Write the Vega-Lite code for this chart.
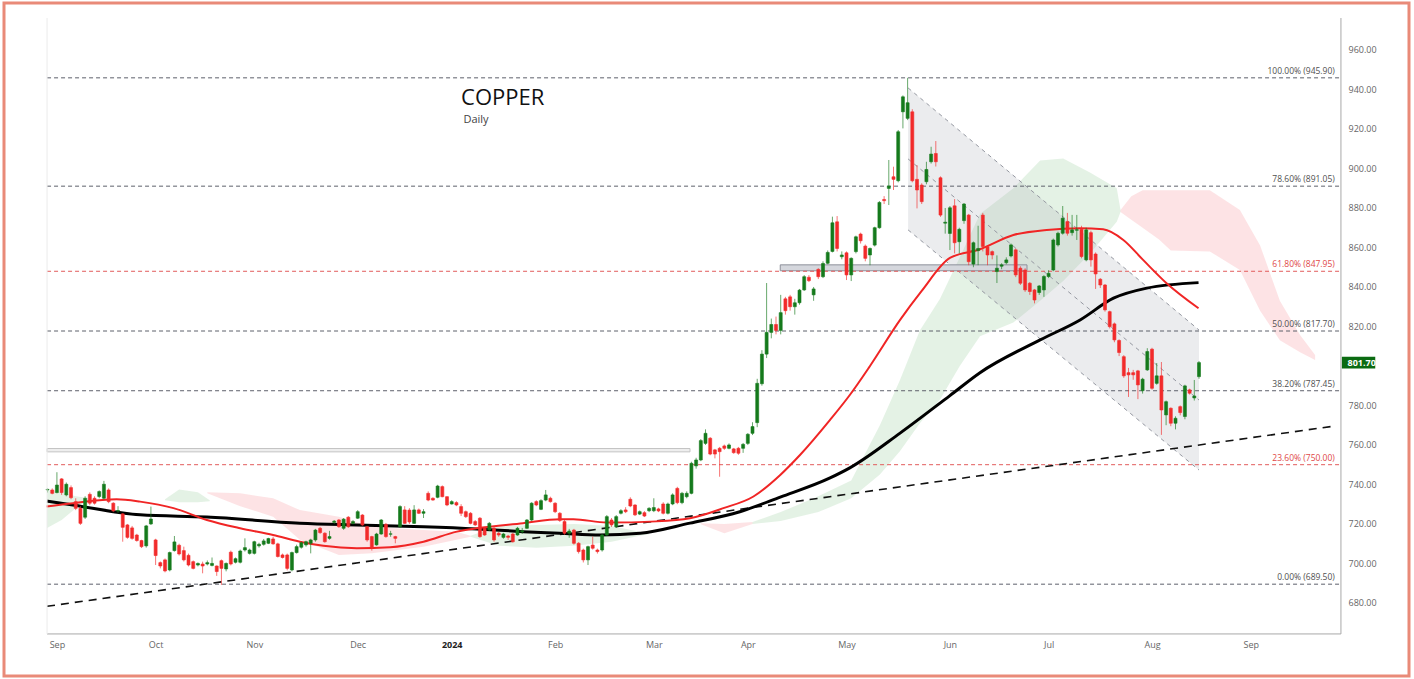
{
"$schema": "https://vega.github.io/schema/vega-lite/v6.json",
"autosize": "none",
"width": 1405,
"height": 673,
"padding": {"left": 4, "top": 3, "right": 5, "bottom": 3},
"background": "white",
"config": {"view": {"stroke": "#e98a78", "strokeWidth": 3}, "axis": {"grid": false, "domain": false, "ticks": false}, "scale": {"continuousPadding": 0}},
"resolve": {"axis": {"x": "independent", "y": "independent"}},
"datasets": {
"candles": [
{"i":0,"o":737.2,"h":738,"l":735.9,"c":737.5},{"i":1,"o":737.2,"h":738,"l":735,"c":735.5},{"i":2,"o":735.9,"h":746.2,"l":735.5,"c":739.7},{"i":3,"o":742.8,"h":743.2,"l":734.7,"c":735.9},{"i":4,"o":734.7,"h":741,"l":734,"c":740.1},{"i":5,"o":738.4,"h":739.5,"l":732.5,"c":733.3},{"i":6,"o":731.3,"h":733,"l":727,"c":727.9},{"i":7,"o":727.9,"h":729,"l":719.5,"c":720.3},{"i":8,"o":723.4,"h":734,"l":722.5,"c":733},{"i":9,"o":735,"h":736,"l":729.5,"c":730.5},
{"i":10,"o":733,"h":734,"l":729.8,"c":730.5},{"i":11,"o":733.9,"h":737,"l":733,"c":736.4},{"i":12,"o":733,"h":741.8,"l":732.5,"c":740.1},{"i":13,"o":737.2,"h":738,"l":730.5,"c":731.3},{"i":14,"o":730.5,"h":731,"l":726,"c":726.6},{"i":15,"o":726.5,"h":729,"l":725.4,"c":726.8},{"i":16,"o":725.1,"h":725.5,"l":711,"c":718.3},{"i":17,"o":719.5,"h":720,"l":712.5,"c":713.2},{"i":18,"o":718,"h":719,"l":712,"c":712.7},{"i":19,"o":714.4,"h":715,"l":711,"c":711.6},
{"i":20,"o":711.6,"h":712,"l":707.8,"c":708.5},{"i":21,"o":708.9,"h":719.5,"l":708,"c":719},{"i":22,"o":720,"h":728.8,"l":719.5,"c":722.5},{"i":23,"o":711.9,"h":712.5,"l":699.2,"c":704},{"i":24,"o":700.4,"h":701,"l":697.5,"c":698.7},{"i":25,"o":701.8,"h":702.5,"l":695.5,"c":696.2},{"i":26,"o":696.7,"h":706,"l":696,"c":705.5},{"i":27,"o":706.5,"h":713.9,"l":706,"c":710.9},{"i":28,"o":709.2,"h":710,"l":704,"c":704.8},{"i":29,"o":706.5,"h":708.5,"l":701,"c":701.8},
{"i":30,"o":704.1,"h":705,"l":698.5,"c":699.2},{"i":31,"o":700.9,"h":701.5,"l":697,"c":697.5},{"i":32,"o":699.2,"h":700.5,"l":698.5,"c":700},{"i":33,"o":699.7,"h":700.9,"l":695,"c":698.7},{"i":34,"o":699.7,"h":701.5,"l":699,"c":700.4},{"i":35,"o":699,"h":703,"l":698.5,"c":700},{"i":36,"o":698.7,"h":699,"l":693.7,"c":695.9},{"i":37,"o":701.4,"h":702,"l":689.1,"c":697.5},{"i":38,"o":697.2,"h":700.5,"l":696,"c":700},{"i":39,"o":705.7,"h":706.5,"l":699,"c":699.7},
{"i":40,"o":700.6,"h":703,"l":700,"c":702.4},{"i":41,"o":700.6,"h":707,"l":700,"c":706.3},{"i":42,"o":706.8,"h":712.7,"l":706,"c":708},{"i":43,"o":705.1,"h":707.5,"l":704.5,"c":706.8},{"i":44,"o":705.1,"h":711.5,"l":704.5,"c":711},{"i":45,"o":708.9,"h":710.5,"l":708,"c":709.7},{"i":46,"o":709.7,"h":712.4,"l":709,"c":711.4},{"i":47,"o":710.2,"h":713,"l":709.8,"c":712.6},{"i":48,"o":712.4,"h":713.5,"l":709.5,"c":709.9},{"i":49,"o":709.9,"h":710.5,"l":703,"c":703.5},
{"i":50,"o":704.3,"h":705,"l":702.5,"c":703},{"i":51,"o":704.3,"h":705,"l":696.5,"c":697.5},{"i":52,"o":696.7,"h":706,"l":696,"c":705.5},{"i":53,"o":705.5,"h":709.5,"l":705,"c":708.5},{"i":54,"o":708.2,"h":711,"l":707.5,"c":710.5},{"i":55,"o":709.4,"h":711.5,"l":708.5,"c":711},{"i":56,"o":710.2,"h":712.5,"l":705.1,"c":711.9},{"i":57,"o":711.9,"h":717.5,"l":711,"c":716.9},{"i":58,"o":717.8,"h":718.5,"l":715,"c":715.6},{"i":59,"o":715.3,"h":715.8,"l":710.5,"c":711},
{"i":60,"o":712.7,"h":716.5,"l":712,"c":713.6},{"i":61,"o":720.8,"h":722,"l":720,"c":721.4},{"i":62,"o":722,"h":722.5,"l":718,"c":718.6},{"i":63,"o":717.8,"h":723,"l":717,"c":722.4},{"i":64,"o":723.4,"h":724,"l":718,"c":718.6},{"i":65,"o":720.3,"h":722,"l":719.8,"c":721.2},{"i":66,"o":722.9,"h":727,"l":722.5,"c":726.2},{"i":67,"o":724.5,"h":725,"l":719,"c":719.5},{"i":68,"o":718.6,"h":719,"l":711,"c":711.9},{"i":69,"o":713.6,"h":714,"l":706.5,"c":707.7},
{"i":70,"o":709.4,"h":715.5,"l":709,"c":714.9},{"i":71,"o":714.9,"h":722.5,"l":714.5,"c":722},{"i":72,"o":719.8,"h":720.5,"l":713,"c":713.6},{"i":73,"o":714.8,"h":716.5,"l":713.5,"c":715},{"i":74,"o":713.6,"h":714,"l":710.2,"c":712.7},{"i":75,"o":718.6,"h":729.5,"l":718,"c":728.8},{"i":76,"o":727.1,"h":729,"l":720,"c":720.3},{"i":77,"o":727,"h":728,"l":720,"c":721},{"i":78,"o":720.3,"h":729.5,"l":720,"c":727.1},{"i":79,"o":727.1,"h":727.8,"l":725,"c":725.4},
{"i":80,"o":725.4,"h":727.5,"l":723,"c":726.2},{"i":81,"o":735.5,"h":736.5,"l":731.5,"c":732.1},{"i":82,"o":733,"h":733.5,"l":731.8,"c":732.1},{"i":83,"o":733.5,"h":739.8,"l":733,"c":739.2},{"i":84,"o":738.9,"h":739.5,"l":733.5,"c":733.8},{"i":85,"o":733.8,"h":734,"l":729,"c":729.6},{"i":86,"o":730.1,"h":732,"l":729.8,"c":731.3},{"i":87,"o":730.8,"h":731.5,"l":729,"c":729.6},{"i":88,"o":728.8,"h":730,"l":724,"c":725.4},{"i":89,"o":726.2,"h":726.8,"l":723,"c":723.7},
{"i":90,"o":725.4,"h":726,"l":719.8,"c":720.3},{"i":91,"o":721.2,"h":722,"l":719,"c":719.5},{"i":92,"o":722.9,"h":723.5,"l":713,"c":713.6},{"i":93,"o":717.8,"h":718.5,"l":714,"c":714.4},{"i":94,"o":717,"h":721,"l":716.5,"c":720.3},{"i":95,"o":717.8,"h":718.5,"l":711,"c":711.9},{"i":96,"o":715.3,"h":716,"l":713.5,"c":714.4},{"i":97,"o":713.2,"h":715.5,"l":712.5,"c":714.9},{"i":98,"o":713.9,"h":714.5,"l":711.9,"c":713.2},{"i":99,"o":714.9,"h":715.5,"l":710.5,"c":711},
{"i":100,"o":714.4,"h":718.5,"l":714,"c":717.8},{"i":101,"o":716,"h":718,"l":715,"c":716.5},{"i":102,"o":717.8,"h":722.5,"l":717.5,"c":722},{"i":103,"o":722,"h":731,"l":721.5,"c":730.5},{"i":104,"o":731.3,"h":732,"l":729,"c":729.6},{"i":105,"o":727.4,"h":732.5,"l":727,"c":731.8},{"i":106,"o":732.1,"h":737.2,"l":731.5,"c":734.7},{"i":107,"o":733,"h":733.8,"l":730.8,"c":731.3},{"i":108,"o":730.5,"h":731,"l":725.5,"c":726.2},{"i":109,"o":725.4,"h":726,"l":721,"c":721.8},
{"i":110,"o":721.2,"h":722,"l":714.5,"c":715.3},{"i":111,"o":715.3,"h":717.5,"l":713,"c":716.4},{"i":112,"o":716.9,"h":717.5,"l":709.5,"c":710.2},{"i":113,"o":710.2,"h":710.8,"l":705,"c":706},{"i":114,"o":706.8,"h":707.5,"l":700.5,"c":701.8},{"i":115,"o":701.8,"h":709,"l":699.2,"c":708.5},{"i":116,"o":709.3,"h":713.6,"l":707,"c":707.7},{"i":117,"o":706.8,"h":707.5,"l":705,"c":706},{"i":118,"o":706.8,"h":715,"l":706,"c":714.4},{"i":119,"o":714.4,"h":724.5,"l":714,"c":723.7},
{"i":120,"o":722,"h":723,"l":718.5,"c":719.5},{"i":121,"o":718.6,"h":724.5,"l":718,"c":723.7},{"i":122,"o":725.4,"h":727.5,"l":724.8,"c":726.7},{"i":123,"o":727.1,"h":728.5,"l":725.5,"c":726.2},{"i":124,"o":732.5,"h":733.5,"l":728.5,"c":729.1},{"i":125,"o":729.6,"h":730,"l":724,"c":724.6},{"i":126,"o":725,"h":726.8,"l":724.5,"c":726.2},{"i":127,"o":725.7,"h":726.5,"l":723.5,"c":724},{"i":128,"o":726.7,"h":728.5,"l":726,"c":727.9},{"i":129,"o":726.7,"h":733,"l":726,"c":728.3},
{"i":130,"o":727.6,"h":728.2,"l":726,"c":726.6},{"i":131,"o":730.1,"h":731,"l":724.8,"c":725.4},{"i":132,"o":725.4,"h":730.8,"l":724.8,"c":730.1},{"i":133,"o":730.1,"h":735.5,"l":729.5,"c":734.7},{"i":134,"o":738,"h":738.8,"l":730,"c":730.8},{"i":135,"o":730.8,"h":736.2,"l":730,"c":735.5},{"i":136,"o":733.8,"h":736.5,"l":733,"c":735.5},{"i":137,"o":735.5,"h":751.5,"l":735,"c":750.7},{"i":138,"o":749.4,"h":753.5,"l":748,"c":752.4},{"i":139,"o":752.4,"h":763,"l":751.8,"c":762.2},
{"i":140,"o":760.8,"h":767.9,"l":760,"c":765.9},{"i":141,"o":763.4,"h":764,"l":754.8,"c":755.4},{"i":142,"o":757.5,"h":758,"l":753.2,"c":755.4},{"i":143,"o":758.3,"h":759,"l":743.9,"c":756.6},{"i":144,"o":759.5,"h":760.2,"l":757.5,"c":758.3},{"i":145,"o":758.3,"h":760.8,"l":757.8,"c":760},{"i":146,"o":758,"h":758.5,"l":755.5,"c":756.1},{"i":147,"o":758.3,"h":759,"l":755,"c":755.8},{"i":148,"o":758.3,"h":761,"l":756,"c":760.3},{"i":149,"o":760.8,"h":766,"l":760,"c":765.4},
{"i":150,"o":765.9,"h":771.5,"l":765,"c":769.3},{"i":151,"o":771.3,"h":793.5,"l":769,"c":791.2},{"i":152,"o":791,"h":808,"l":790,"c":806},{"i":153,"o":806,"h":842,"l":804,"c":817},{"i":154,"o":817,"h":824,"l":814,"c":821},{"i":155,"o":821,"h":825,"l":816,"c":818},{"i":156,"o":818,"h":836,"l":816,"c":827},{"i":157,"o":834,"h":835,"l":826,"c":828},{"i":158,"o":835,"h":836,"l":828,"c":830},{"i":159,"o":830,"h":834,"l":826,"c":832},
{"i":160,"o":832,"h":839,"l":831,"c":838.4},{"i":161,"o":838.5,"h":846,"l":838,"c":845.2},{"i":162,"o":844.9,"h":846,"l":842.5,"c":843.2},{"i":163,"o":836,"h":840,"l":833,"c":839},{"i":164,"o":848.9,"h":849.5,"l":844,"c":845.2},{"i":165,"o":845.2,"h":853,"l":844.5,"c":851.9},{"i":166,"o":852,"h":858.5,"l":851.5,"c":857.5},{"i":167,"o":858,"h":875.6,"l":857.5,"c":872.5},{"i":168,"o":873,"h":875.9,"l":858,"c":859.5},{"i":169,"o":855.3,"h":858,"l":854,"c":856.2},
{"i":170,"o":857.3,"h":858,"l":843.5,"c":846.1},{"i":171,"o":846.1,"h":855,"l":843,"c":854.5},{"i":172,"o":857.9,"h":866,"l":857,"c":865.4},{"i":173,"o":866.8,"h":867.5,"l":862,"c":863.4},{"i":174,"o":860.7,"h":861.5,"l":853,"c":854.5},{"i":175,"o":856.2,"h":860,"l":851,"c":859.5},{"i":176,"o":861.2,"h":870.5,"l":860.5,"c":870},{"i":177,"o":870,"h":883.5,"l":869.5,"c":882.8},{"i":178,"o":884.3,"h":886,"l":882,"c":883.7},{"i":179,"o":889.9,"h":904.3,"l":881.5,"c":891.1},
{"i":180,"o":895.8,"h":900.9,"l":889.1,"c":894.5},{"i":181,"o":893.8,"h":919.5,"l":893,"c":918.6},{"i":182,"o":928.7,"h":937,"l":920.3,"c":936.3},{"i":183,"o":925.4,"h":945.9,"l":924.5,"c":933.3},{"i":184,"o":928.7,"h":930,"l":893,"c":893.8},{"i":185,"o":894.5,"h":901.7,"l":879.8,"c":889.1},{"i":186,"o":891.6,"h":892.5,"l":882,"c":883.2},{"i":187,"o":893.3,"h":903.4,"l":892,"c":899.5},{"i":188,"o":903.4,"h":911,"l":902.5,"c":907.3},{"i":189,"o":907.6,"h":913.9,"l":901,"c":903.4},
{"i":190,"o":895.3,"h":896,"l":875.5,"c":876.4},{"i":191,"o":872.3,"h":880,"l":867,"c":872.8},{"i":192,"o":867.1,"h":881,"l":858.7,"c":880.1},{"i":193,"o":881.1,"h":884.5,"l":857,"c":862.4},{"i":194,"o":862.9,"h":870,"l":857,"c":869.2},{"i":195,"o":873.6,"h":882.5,"l":872,"c":882},{"i":196,"o":876.4,"h":877,"l":851,"c":852.8},{"i":197,"o":851.6,"h":863,"l":850,"c":862.4},{"i":198,"o":858.4,"h":871,"l":851,"c":859.5},{"i":199,"o":876.4,"h":877.5,"l":858,"c":860.5},
{"i":200,"o":860.4,"h":861,"l":851,"c":856.2},{"i":201,"o":857.9,"h":858.5,"l":854,"c":856.2},{"i":202,"o":847.8,"h":856,"l":842,"c":849.5},{"i":203,"o":850.5,"h":852,"l":849,"c":851.2},{"i":204,"o":852.3,"h":855,"l":851.5,"c":853.7},{"i":205,"o":855.7,"h":862,"l":855,"c":861.3},{"i":206,"o":858.8,"h":859.5,"l":845,"c":846.1},{"i":207,"o":849.5,"h":850.5,"l":841,"c":841.9},{"i":208,"o":848.6,"h":849.5,"l":837.5,"c":838.5},{"i":209,"o":841.9,"h":842.5,"l":836,"c":837.7},
{"i":210,"o":838.5,"h":839,"l":831.7,"c":833.4},{"i":211,"o":837.2,"h":841,"l":836,"c":840.5},{"i":212,"o":838.5,"h":846,"l":835,"c":845.3},{"i":213,"o":845.3,"h":848.5,"l":844.5,"c":846.9},{"i":214,"o":848.6,"h":864.5,"l":848,"c":863.8},{"i":215,"o":861.3,"h":868,"l":860.5,"c":867.2},{"i":216,"o":867.2,"h":881,"l":866.5,"c":874.8},{"i":217,"o":873.1,"h":877.5,"l":866,"c":867.2},{"i":218,"o":867.5,"h":876.5,"l":866,"c":868.9},{"i":219,"o":868.7,"h":876.5,"l":863.8,"c":869},
{"i":220,"o":869.2,"h":871,"l":854.5,"c":855.4},{"i":221,"o":853.7,"h":870,"l":853,"c":868.9},{"i":222,"o":867.5,"h":868.5,"l":850.3,"c":853.7},{"i":223,"o":856.7,"h":857.5,"l":839,"c":846.6},{"i":224,"o":843.9,"h":844.5,"l":839.5,"c":841},{"i":225,"o":841,"h":841.5,"l":827.5,"c":828.4},{"i":226,"o":827.5,"h":828,"l":819,"c":819.9},{"i":227,"o":821.3,"h":822,"l":812,"c":813.2},{"i":228,"o":812.9,"h":813.5,"l":805,"c":806.8},{"i":229,"o":804.7,"h":805.5,"l":794,"c":795},
{"i":230,"o":796.6,"h":799,"l":784.3,"c":795.5},{"i":231,"o":796.6,"h":798,"l":793,"c":795.5},{"i":232,"o":797.5,"h":798,"l":783.2,"c":790.4},{"i":233,"o":787.5,"h":794,"l":786,"c":793.3},{"i":234,"o":798,"h":809,"l":797.5,"c":807.3},{"i":235,"o":808.5,"h":809.2,"l":788,"c":788.7},{"i":236,"o":791.2,"h":801.5,"l":790.5,"c":795},{"i":237,"o":795,"h":802,"l":765.1,"c":777.7},{"i":238,"o":775.2,"h":782.5,"l":770,"c":781.9},{"i":239,"o":778.6,"h":779,"l":769.5,"c":771},
{"i":240,"o":771,"h":774.5,"l":767.9,"c":773.5},{"i":241,"o":779.4,"h":780,"l":775,"c":776.4},{"i":242,"o":774.4,"h":790.5,"l":773,"c":789.9},{"i":243,"o":787.9,"h":788.5,"l":785.5,"c":786.2},{"i":244,"o":783.8,"h":792.9,"l":782.5,"c":784.8},{"i":245,"o":794.6,"h":802.5,"l":793.5,"c":801.7}
],
"maRed": [
{"i":-0.2,"v":728.8},{"i":5.4,"v":730.5},{"i":14.7,"v":732.5},{"i":19.7,"v":731.3},{"i":26.8,"v":728},{"i":33.9,"v":722},{"i":41,"v":717.8},{"i":48,"v":714.4},{"i":53.7,"v":711},{"i":58.7,"v":708.9},{"i":65.8,"v":707.7},{"i":72.9,"v":708.2},{"i":80,"v":711},{"i":87.1,"v":716.1},{"i":91.3,"v":717.8},{"i":101.2,"v":720.4},{"i":109,"v":722.4},{"i":111.9,"v":722.4},{"i":119,"v":720.7},{"i":129.6,"v":721.3},{"i":136.7,"v":722.9},{"i":143.8,"v":728},{"i":150.2,"v":733.9},{"i":155.9,"v":744.8},{"i":160.1,"v":754.9},{"i":166.5,"v":772.7},{"i":170.7,"v":785.3},{"i":175,"v":800},{"i":181.4,"v":823.3},{"i":186,"v":838},{"i":192,"v":854.7},{"i":198.4,"v":859.1},{"i":205.5,"v":866.3},{"i":212.6,"v":868.9},{"i":219.7,"v":869.7},{"i":224.6,"v":869.2},{"i":228.9,"v":863.8},{"i":233.1,"v":853.7},{"i":238.1,"v":841.9},{"i":244.9,"v":829.2}
],
"maBlack": [
{"i":-0.1,"v":731.6},{"i":5.4,"v":729.6},{"i":19.7,"v":724.6},{"i":33.9,"v":723.5},{"i":53.7,"v":720.4},{"i":65.8,"v":719.5},{"i":80,"v":718.6},{"i":91.3,"v":717.5},{"i":101.2,"v":716.1},{"i":109,"v":715.3},{"i":117.6,"v":714.4},{"i":126.1,"v":715.3},{"i":136.7,"v":720.4},{"i":147.3,"v":726.2},{"i":155.9,"v":733.6},{"i":166.5,"v":743.3},{"i":170.7,"v":748.4},{"i":181.4,"v":766},{"i":192,"v":785},{"i":198.4,"v":796.6},{"i":211.2,"v":813.2},{"i":219.7,"v":823.3},{"i":226.8,"v":834.3},{"i":233.9,"v":839.4},{"i":244.9,"v":842.2}
],
"cloud": [
{"seg":1,"k":"g","i":-0.1,"top":737,"bot":718},{"seg":1,"k":"g","i":3,"top":736,"bot":722},{"seg":1,"k":"g","i":6,"top":734,"bot":728},{"seg":1,"k":"g","i":9,"top":733,"bot":732.5},
{"seg":2,"k":"g","i":25,"top":732.5,"bot":732},{"seg":2,"k":"g","i":28,"top":737.5,"bot":731},{"seg":2,"k":"g","i":32,"top":736,"bot":731},{"seg":2,"k":"g","i":34.5,"top":732,"bot":731.5},
{"seg":3,"k":"r","i":34,"top":736,"bot":735.5},{"seg":3,"k":"r","i":41,"top":735.5,"bot":729},{"seg":3,"k":"r","i":48,"top":733,"bot":723.7},{"seg":3,"k":"r","i":53.7,"top":727,"bot":712},{"seg":3,"k":"r","i":62,"top":723.7,"bot":704.3},{"seg":3,"k":"r","i":69,"top":718.6,"bot":705.1},{"seg":3,"k":"r","i":80,"top":716.9,"bot":708.5},{"seg":3,"k":"r","i":87,"top":716,"bot":712},{"seg":3,"k":"r","i":90,"top":714,"bot":713.5},
{"seg":4,"k":"g","i":90,"top":714,"bot":713.5},{"seg":4,"k":"g","i":96,"top":719,"bot":709},{"seg":4,"k":"g","i":104,"top":719.5,"bot":708},{"seg":4,"k":"g","i":112,"top":720,"bot":709},{"seg":4,"k":"g","i":120,"top":719,"bot":711},{"seg":4,"k":"g","i":126,"top":716,"bot":714},{"seg":4,"k":"g","i":128,"top":715,"bot":714.8},
{"seg":5,"k":"r","i":139,"top":720.3,"bot":719.8},{"seg":5,"k":"r","i":144,"top":720,"bot":715.3},{"seg":5,"k":"r","i":150,"top":721,"bot":720},
{"seg":6,"k":"g","i":150,"top":721,"bot":720},{"seg":6,"k":"g","i":156,"top":726,"bot":721.5},{"seg":6,"k":"g","i":164,"top":734,"bot":726},{"seg":6,"k":"g","i":171,"top":742,"bot":733},{"seg":6,"k":"g","i":177.1,"top":770,"bot":745},{"seg":6,"k":"g","i":181.4,"top":793,"bot":757},{"seg":6,"k":"g","i":185.6,"top":818,"bot":771},{"seg":6,"k":"g","i":189.9,"top":834,"bot":783},{"seg":6,"k":"g","i":194.1,"top":855,"bot":800},{"seg":6,"k":"g","i":198.4,"top":877,"bot":815},{"seg":6,"k":"g","i":205.5,"top":890,"bot":822},{"seg":6,"k":"g","i":211.2,"top":904,"bot":833},{"seg":6,"k":"g","i":216.1,"top":905,"bot":843},{"seg":6,"k":"g","i":221.8,"top":898,"bot":857},{"seg":6,"k":"g","i":227.5,"top":890,"bot":873},{"seg":6,"k":"g","i":228.3,"top":879,"bot":878},
{"seg":7,"k":"r","i":228.3,"top":879,"bot":878},{"seg":7,"k":"r","i":230.6,"top":886,"bot":874},{"seg":7,"k":"r","i":233,"top":889,"bot":870},{"seg":7,"k":"r","i":236.5,"top":889,"bot":864},{"seg":7,"k":"r","i":239,"top":889,"bot":858.5},{"seg":7,"k":"r","i":247.3,"top":889,"bot":858},{"seg":7,"k":"r","i":253.7,"top":879,"bot":848.6},{"seg":7,"k":"r","i":258,"top":861,"bot":828},{"seg":7,"k":"r","i":262.2,"top":833,"bot":813},{"seg":7,"k":"r","i":266.5,"top":815.7,"bot":807},{"seg":7,"k":"r","i":269.7,"top":805.6,"bot":803}
],
"fib": [
{"p":945.9,"t":"100.00% (945.90)","r":0},{"p":891.05,"t":"78.60% (891.05)","r":0},{"p":847.95,"t":"61.80% (847.95)","r":1},{"p":817.7,"t":"50.00% (817.70)","r":0},{"p":787.45,"t":"38.20% (787.45)","r":0},{"p":750,"t":"23.60% (750.00)","r":1},{"p":689.5,"t":"0.00% (689.50)","r":0}
],
"trend": [{"i":-0.1,"v":678.3},{"i":273.9,"v":769.6}],
"channel": [{"i":183.1,"top":940.8,"mid":904.85,"bot":868.9},{"i":245,"top":818.2,"mid":782.75,"bot":747.3}],
"zones": [{"i1":155.9,"i2":208.4,"p1":848.2,"p2":851.2,"z":"a"},{"i1":-0.1,"i2":136.7,"p1":756.5,"p2":758.2,"z":"b"}]
},
"layer": [
{"data": {"name": "cloud"}, "mark": {"type": "area", "opacity": 0.14},
 "encoding": {"x": {"field": "i", "type": "quantitative", "scale": {"domain": [-9.26, 289.68], "nice": false, "zero": false}, "axis": null},
  "y": {"field": "top", "type": "quantitative", "scale": {"domain": [643.0, 983.8], "nice": false, "zero": false}, "axis": null},
  "y2": {"field": "bot"},
  "color": {"field": "k", "type": "nominal", "scale": {"domain": ["g", "r"], "range": ["#43a047", "#f23645"]}, "legend": null},
  "detail": {"field": "seg"}}},
{"data": {"name": "channel"}, "mark": {"type": "area", "color": "#b2b5be", "opacity": 0.26},
 "encoding": {"x": {"field": "i", "type": "quantitative", "scale": {"domain": [-9.26, 289.68], "nice": false, "zero": false}, "axis": null},
  "y": {"field": "top", "type": "quantitative", "scale": {"domain": [643.0, 983.8], "nice": false, "zero": false}, "axis": null},
  "y2": {"field": "bot"}}},
{"data": {"name": "channel"}, "mark": {"type": "line", "color": "#9598a1", "strokeWidth": 1, "strokeDash": [4, 4]},
 "encoding": {"x": {"field": "i", "type": "quantitative", "scale": {"domain": [-9.26, 289.68], "nice": false, "zero": false}, "axis": null},
  "y": {"field": "top", "type": "quantitative", "scale": {"domain": [643.0, 983.8], "nice": false, "zero": false}, "axis": null}}},
{"data": {"name": "channel"}, "mark": {"type": "line", "color": "#9598a1", "strokeWidth": 1, "strokeDash": [4, 4]},
 "encoding": {"x": {"field": "i", "type": "quantitative", "scale": {"domain": [-9.26, 289.68], "nice": false, "zero": false}, "axis": null},
  "y": {"field": "mid", "type": "quantitative", "scale": {"domain": [643.0, 983.8], "nice": false, "zero": false}, "axis": null}}},
{"data": {"name": "channel"}, "mark": {"type": "line", "color": "#9598a1", "strokeWidth": 1, "strokeDash": [4, 4]},
 "encoding": {"x": {"field": "i", "type": "quantitative", "scale": {"domain": [-9.26, 289.68], "nice": false, "zero": false}, "axis": null},
  "y": {"field": "bot", "type": "quantitative", "scale": {"domain": [643.0, 983.8], "nice": false, "zero": false}, "axis": null}}},
{"data": {"name": "zones"}, "mark": {"type": "rect", "strokeWidth": 1},
 "encoding": {"x": {"field": "i1", "type": "quantitative", "scale": {"domain": [-9.26, 289.68], "nice": false, "zero": false}, "axis": null},
  "x2": {"field": "i2"},
  "y": {"field": "p1", "type": "quantitative", "scale": {"domain": [643.0, 983.8], "nice": false, "zero": false}, "axis": null},
  "y2": {"field": "p2"},
  "fill": {"condition": {"test": "datum.z === 'a'", "value": "#d5d7dd"}, "value": "#eeeeee"},
  "stroke": {"condition": {"test": "datum.z === 'a'", "value": "#8d909a"}, "value": "#c4c4c4"}}},
{"data": {"name": "fib"}, "mark": {"type": "rule", "strokeWidth": 1, "strokeDash": [4, 3]},
 "encoding": {"x": {"datum": -0.1, "type": "quantitative", "scale": {"domain": [-9.26, 289.68], "nice": false, "zero": false}, "axis": null},
  "x2": {"datum": 275.2},
  "y": {"field": "p", "type": "quantitative", "scale": {"domain": [643.0, 983.8], "nice": false, "zero": false}, "axis": null},
  "color": {"condition": {"test": "datum.r === 1", "value": "#e25c5c"}, "value": "#5d606b"}}},
{"data": {"name": "fib"}, "mark": {"type": "text", "align": "right", "baseline": "alphabetic", "dy": -4, "font": "Open Sans", "fontSize": 8.5},
 "encoding": {"x": {"datum": 273.9, "type": "quantitative", "scale": {"domain": [-9.26, 289.68], "nice": false, "zero": false}, "axis": null},
  "y": {"field": "p", "type": "quantitative", "scale": {"domain": [643.0, 983.8], "nice": false, "zero": false}, "axis": null},
  "text": {"field": "t"},
  "color": {"condition": {"test": "datum.r === 1", "value": "#e04848"}, "value": "#505050"}}},
{"data": {"name": "trend"}, "mark": {"type": "line", "color": "#111111", "strokeWidth": 1.6, "strokeDash": [8, 6]},
 "encoding": {"x": {"field": "i", "type": "quantitative", "scale": {"domain": [-9.26, 289.68], "nice": false, "zero": false}, "axis": null},
  "y": {"field": "v", "type": "quantitative", "scale": {"domain": [643.0, 983.8], "nice": false, "zero": false}, "axis": null}}},
{"data": {"name": "maBlack"}, "mark": {"type": "line", "color": "#000000", "strokeWidth": 3, "interpolate": "monotone"},
 "encoding": {"x": {"field": "i", "type": "quantitative", "scale": {"domain": [-9.26, 289.68], "nice": false, "zero": false}, "axis": null},
  "y": {"field": "v", "type": "quantitative", "scale": {"domain": [643.0, 983.8], "nice": false, "zero": false}, "axis": null}}},
{"data": {"name": "maRed"}, "mark": {"type": "line", "color": "#f02525", "strokeWidth": 2, "interpolate": "monotone"},
 "encoding": {"x": {"field": "i", "type": "quantitative", "scale": {"domain": [-9.26, 289.68], "nice": false, "zero": false}, "axis": null},
  "y": {"field": "v", "type": "quantitative", "scale": {"domain": [643.0, 983.8], "nice": false, "zero": false}, "axis": null}}},
{"data": {"name": "candles"}, "mark": {"type": "rule", "strokeWidth": 1, "opacity": 0.65},
 "encoding": {"x": {"field": "i", "type": "quantitative", "scale": {"domain": [-9.26, 289.68], "nice": false, "zero": false}, "axis": null},
  "y": {"field": "l", "type": "quantitative", "scale": {"domain": [643.0, 983.8], "nice": false, "zero": false}, "axis": null},
  "y2": {"field": "h"},
  "color": {"condition": {"test": "datum.c >= datum.o", "value": "#157a1c"}, "value": "#f22b2b"}}},
{"data": {"name": "candles"}, "mark": {"type": "bar", "width": 3, "strokeWidth": 0.6},
 "encoding": {"x": {"field": "i", "type": "quantitative", "scale": {"domain": [-9.26, 289.68], "nice": false, "zero": false},
   "axis": {"orient": "bottom", "offset": -42, "title": null, "values": [2, 23, 44, 66, 86, 108, 129, 149, 170, 192, 213, 235, 256],
    "labelExpr": "datum.value == 2 ? 'Sep' : datum.value == 23 ? 'Oct' : datum.value == 44 ? 'Nov' : datum.value == 66 ? 'Dec' : datum.value == 86 ? '2024' : datum.value == 108 ? 'Feb' : datum.value == 129 ? 'Mar' : datum.value == 149 ? 'Apr' : datum.value == 170 ? 'May' : datum.value == 192 ? 'Jun' : datum.value == 213 ? 'Jul' : datum.value == 235 ? 'Aug' : 'Sep'",
    "labelFont": "Open Sans", "labelFontSize": 9, "labelPadding": 6, "labelFlush": false, "labelOverlap": false,
    "labelColor": {"condition": {"test": "datum.value == 86", "value": "#222222"}, "value": "#666666"},
    "labelFontWeight": {"condition": {"test": "datum.value == 86", "value": "bold"}, "value": "normal"}}},
  "y": {"field": "o", "type": "quantitative", "scale": {"domain": [643.0, 983.8], "nice": false, "zero": false},
   "axis": {"orient": "right", "offset": -68, "title": null, "values": [680, 700, 720, 740, 760, 780, 820, 840, 860, 880, 900, 920, 940, 960], "format": ".2f",
    "labelFont": "Open Sans", "labelFontSize": 9, "labelPadding": 7, "labelColor": "#666666", "labelAlign": "left", "labelBaseline": "middle", "labelOverlap": false}},
  "y2": {"field": "c"},
  "color": {"condition": {"test": "datum.c >= datum.o", "value": "#157a1c"}, "value": "#f22b2b"},
  "stroke": {"condition": {"test": "datum.c >= datum.o", "value": "#157a1c"}, "value": "#f22b2b"}}},
{"data": {"values": [{}]}, "mark": {"type": "rule", "color": "#a8a8a8", "strokeWidth": 1},
 "encoding": {"x": {"datum": 275.2, "type": "quantitative", "scale": {"domain": [-9.26, 289.68], "nice": false, "zero": false}, "axis": null},
  "y": {"datum": 664.3, "type": "quantitative", "scale": {"domain": [643.0, 983.8], "nice": false, "zero": false}, "axis": null},
  "y2": {"datum": 976.2}}},
{"data": {"values": [{}]}, "mark": {"type": "rule", "color": "#a8a8a8", "strokeWidth": 1},
 "encoding": {"x": {"datum": -0.1, "type": "quantitative", "scale": {"domain": [-9.26, 289.68], "nice": false, "zero": false}, "axis": null},
  "x2": {"datum": 275.2},
  "y": {"datum": 664.3, "type": "quantitative", "scale": {"domain": [643.0, 983.8], "nice": false, "zero": false}, "axis": null}}},
{"data": {"values": [{}]}, "mark": {"type": "rule", "color": "#ececec", "strokeWidth": 1},
 "encoding": {"x": {"datum": -0.1, "type": "quantitative", "scale": {"domain": [-9.26, 289.68], "nice": false, "zero": false}, "axis": null},
  "y": {"datum": 664.3, "type": "quantitative", "scale": {"domain": [643.0, 983.8], "nice": false, "zero": false}, "axis": null},
  "y2": {"datum": 976.2}}},
{"data": {"values": [{}]}, "mark": {"type": "rect", "color": "#0b6b12"},
 "encoding": {"x": {"datum": 275.4, "type": "quantitative", "scale": {"domain": [-9.26, 289.68], "nice": false, "zero": false}, "axis": null},
  "x2": {"datum": 282.5},
  "y": {"datum": 798.7, "type": "quantitative", "scale": {"domain": [643.0, 983.8], "nice": false, "zero": false}, "axis": null},
  "y2": {"datum": 804.7}}},
{"data": {"values": [{}]}, "mark": {"type": "text", "color": "white", "font": "Open Sans", "fontSize": 9, "fontWeight": "bold", "align": "left", "baseline": "middle"},
 "encoding": {"x": {"datum": 276.6, "type": "quantitative", "scale": {"domain": [-9.26, 289.68], "nice": false, "zero": false}, "axis": null},
  "y": {"datum": 801.7, "type": "quantitative", "scale": {"domain": [643.0, 983.8], "nice": false, "zero": false}, "axis": null},
  "text": {"value": "801.70"}}},
{"data": {"values": [{}]}, "mark": {"type": "text", "color": "#111111", "font": "Open Sans", "fontSize": 22, "align": "left", "baseline": "alphabetic"},
 "encoding": {"x": {"datum": 88.0, "type": "quantitative", "scale": {"domain": [-9.26, 289.68], "nice": false, "zero": false}, "axis": null},
  "y": {"datum": 932.2, "type": "quantitative", "scale": {"domain": [643.0, 983.8], "nice": false, "zero": false}, "axis": null},
  "text": {"value": "COPPER"}}},
{"data": {"values": [{}]}, "mark": {"type": "text", "color": "#444444", "font": "Open Sans", "fontSize": 11, "align": "left", "baseline": "alphabetic"},
 "encoding": {"x": {"datum": 88.5, "type": "quantitative", "scale": {"domain": [-9.26, 289.68], "nice": false, "zero": false}, "axis": null},
  "y": {"datum": 923.0, "type": "quantitative", "scale": {"domain": [643.0, 983.8], "nice": false, "zero": false}, "axis": null},
  "text": {"value": "Daily"}}}
]
}
